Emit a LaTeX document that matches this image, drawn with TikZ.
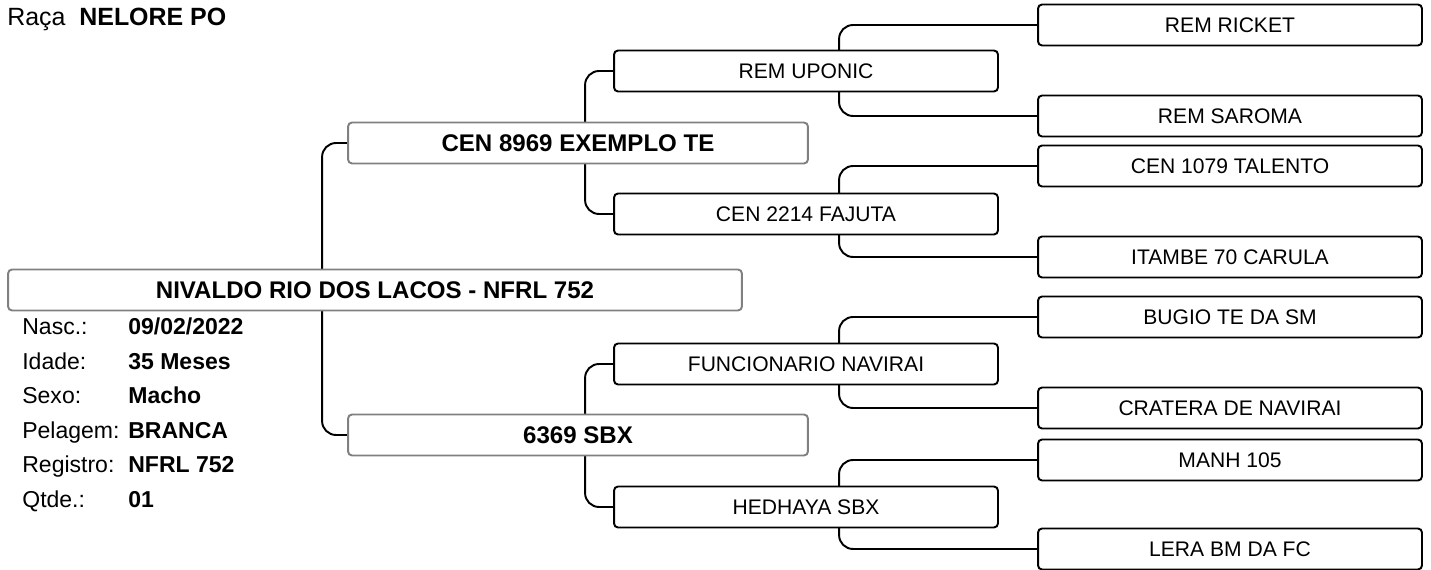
\documentclass[tikz,border=0pt]{standalone}
\usepackage{fontspec}
\setmainfont{Liberation Sans}
\usetikzlibrary{backgrounds}

\begin{document}
\begin{tikzpicture}[
  x=0.02cm, y=-0.02cm,
  box/.style={rectangle, draw, line width=1.1pt, rounded corners=0.08cm, fill=white, minimum width=7.68cm, minimum height=0.82cm, align=center, font=\fontsize{12}{14}\selectfont},
  mainbox/.style={box, draw=gray, minimum width=9.2cm, font=\fontsize{13.7}{16}\selectfont\bfseries},
  info/.style={anchor=base west, inner sep=0pt, font=\fontsize{13.1}{15}\selectfont},
  link/.style={line width=1.1pt, rounded corners=0.28cm}
]
  \useasboundingbox (0,0) rectangle (1431,570);

  % header
  \node[info, font=\fontsize{14.2}{16}\selectfont] (raca) at (7,26) {Raça};
  \node[info, font=\fontsize{14.2}{16}\selectfont\bfseries] (racaval) at (79,26) {NELORE PO};

  % animal, pais
  \node[mainbox, minimum width=14.68cm] (animal) at (375,290) {NIVALDO RIO DOS LACOS - NFRL 752};
  \node[mainbox] (pai) at (578,143) {CEN 8969 EXEMPLO TE};
  \node[mainbox] (mae) at (578,435) {6369 SBX};

  % avos
  \node[box] (avo1) at (806,71) {REM UPONIC};
  \node[box] (avo2) at (806,214) {CEN 2214 FAJUTA};
  \node[box] (avo3) at (806,364) {FUNCIONARIO NAVIRAI};
  \node[box] (avo4) at (806,507) {HEDHAYA SBX};

  % bisavos
  \node[box] (bis1) at (1230,25) {REM RICKET};
  \node[box] (bis2) at (1230,116) {REM SAROMA};
  \node[box] (bis3) at (1230,166) {CEN 1079 TALENTO};
  \node[box] (bis4) at (1230,257) {ITAMBE 70 CARULA};
  \node[box] (bis5) at (1230,317) {BUGIO TE DA SM};
  \node[box] (bis6) at (1230,408) {CRATERA DE NAVIRAI};
  \node[box] (bis7) at (1230,460) {MANH 105};
  \node[box] (bis8) at (1230,549) {LERA BM DA FC};

  % dados
  \node[info] (lnasc) at (22,335) {Nasc.:};
  \node[info, font=\fontsize{13.1}{15}\selectfont\bfseries] (vnasc) at (128,335) {09/02/2022};
  \node[info] (lidade) at (22,369.5) {Idade:};
  \node[info, font=\fontsize{13.1}{15}\selectfont\bfseries] (vidade) at (128,369.5) {35 Meses};
  \node[info] (lsexo) at (22,404) {Sexo:};
  \node[info, font=\fontsize{13.1}{15}\selectfont\bfseries] (vsexo) at (128,404) {Macho};
  \node[info] (lpel) at (22,438.5) {Pelagem:};
  \node[info, font=\fontsize{13.1}{15}\selectfont\bfseries] (vpel) at (128,438.5) {BRANCA};
  \node[info] (lreg) at (22,473) {Registro:};
  \node[info, font=\fontsize{13.1}{15}\selectfont\bfseries] (vreg) at (128,473) {NFRL 752};
  \node[info] (lqtde) at (22,507.5) {Qtde.:};
  \node[info, font=\fontsize{13.1}{15}\selectfont\bfseries] (vqtde) at (128,507.5) {01};

  % ligacoes
  \begin{scope}[on background layer]
    \draw[link] (pai.west) -- ++(-25,0) |- (animal.center);
    \draw[link] (mae.west) -- ++(-25,0) |- (animal.center);
    \draw[link] (avo1.west) -- ++(-28,0) |- (pai.center);
    \draw[link] (avo2.west) -- ++(-28,0) |- (pai.center);
    \draw[link] (avo3.west) -- ++(-28,0) |- (mae.center);
    \draw[link] (avo4.west) -- ++(-28,0) |- (mae.center);
    \draw[link] (bis1.west) -- ++(-198,0) |- (avo1.center);
    \draw[link] (bis2.west) -- ++(-198,0) |- (avo1.center);
    \draw[link] (bis3.west) -- ++(-198,0) |- (avo2.center);
    \draw[link] (bis4.west) -- ++(-198,0) |- (avo2.center);
    \draw[link] (bis5.west) -- ++(-198,0) |- (avo3.center);
    \draw[link] (bis6.west) -- ++(-198,0) |- (avo3.center);
    \draw[link] (bis7.west) -- ++(-198,0) |- (avo4.center);
    \draw[link] (bis8.west) -- ++(-198,0) |- (avo4.center);
  \end{scope}
\end{tikzpicture}
\end{document}
